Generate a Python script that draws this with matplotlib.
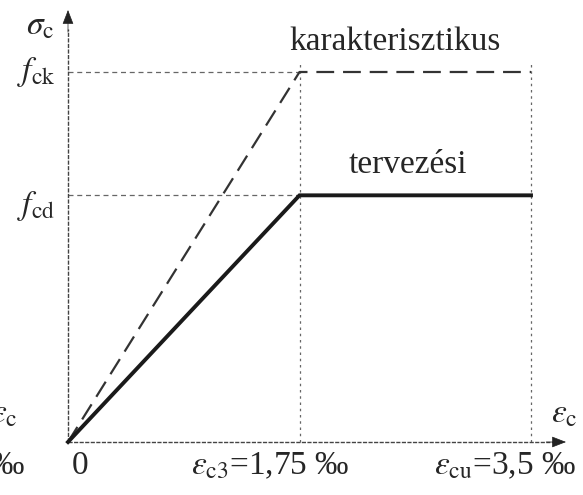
import matplotlib
matplotlib.use("Agg")
import matplotlib.pyplot as plt

plt.rcParams['font.family'] = ['Liberation Serif', 'DejaVu Serif']
plt.rcParams['mathtext.fontset'] = 'stix'

# ---- data (strain in per mille, stress relative to f_ck) ----
strain_points = [0.0, 1.75, 3.5]
char_stress = [0.0, 1.0, 1.0]          # karakterisztikus
design_stress = [0.0, 1.0 / 1.5, 1.0 / 1.5]  # tervezési
char_label = "karakterisztikus"
design_label = "tervezési"
y_tick_labels = [r"$f_{\rm ck}$", r"$f_{\rm cd}$"]
x_tick_labels = ["0", r"$\varepsilon_{\rm c3}$=1,75 ‰", r"$\varepsilon_{\rm cu}$=3,5 ‰"]

W, H = 583, 495
fig = plt.figure(figsize=(W / 100, H / 100), dpi=100)
ax = fig.add_axes([0, 0, 1, 1])
ax.set_axis_off()

# map: origin at pixel (68, 442); 3.5 -> px 531 ; 1.0 -> px 72
sx = (531 - 68) / 3.5
sy = (442 - 72) / 1.0
ax.set_xlim(-68 / sx, (W - 68) / sx)
ax.set_ylim(-(H - 442) / sy, 442 / sy)

tc = '#262626'
guide = '#666666'

# guide lines
for yv in [char_stress[1], design_stress[1]]:
    ax.plot([0, strain_points[1]], [yv, yv], color=guide, lw=0.9, ls=(0, (4, 3)), zorder=1)
for xv in strain_points[1:]:
    ax.plot([xv, xv], [0, 1.03], color=guide, lw=0.9, ls=(0, (2, 3)), zorder=1)

# axes
x_end = (566 - 68) / sx
y_end = (442 - 10) / sy
ax.plot([0, x_end - 0.1], [0, 0], color='#444444', lw=1.0, ls=(0, (3, 1)), zorder=2)
ax.plot([0, 0], [0, y_end - 0.05], color='#444444', lw=1.0, ls=(0, (3, 1)), zorder=2)
ax.annotate('', xy=(x_end, 0), xytext=(x_end - 0.15, 0),
            arrowprops=dict(arrowstyle='-|>,head_length=0.9,head_width=0.35',
                            color='#222222', lw=0.5, shrinkA=0, shrinkB=0))
ax.annotate('', xy=(0, y_end), xytext=(0, y_end - 0.06),
            arrowprops=dict(arrowstyle='-|>,head_length=0.9,head_width=0.35',
                            color='#222222', lw=0.5, shrinkA=0, shrinkB=0))

# curves
ax.plot(strain_points, char_stress, color='#333333', lw=1.6, ls=(0, (8, 4)), zorder=3)
ax.plot(strain_points, design_stress, color='#1a1a1a', lw=2.8, zorder=4,
        solid_joinstyle='miter')

# labels
fs = 24
ax.text((395 - 68) / sx, (442 - 42) / sy, char_label, ha='center', va='center',
        fontsize=fs, color=tc)
ax.text((408 - 68) / sx, (442 - 165) / sy, design_label, ha='center', va='center',
        fontsize=fs, color=tc)

ax.text(-0.095, char_stress[1], y_tick_labels[0], ha='right', va='center', fontsize=fs, color=tc)
ax.text(-0.095, design_stress[1] - 0.03, y_tick_labels[1], ha='right', va='center', fontsize=fs, color=tc)
ax.text(-0.1, 1.125, r"$\sigma_{\rm c}$", ha='right', va='center', fontsize=fs, color=tc)

ylab = -(466 - 442) / sy
ax.text(0.09, ylab, x_tick_labels[0], ha='center', va='center', fontsize=fs, color=tc)
ax.text(1.53, ylab, x_tick_labels[1], ha='center', va='center', fontsize=fs, color=tc)
ax.text(3.3, ylab, x_tick_labels[2], ha='center', va='center', fontsize=fs, color=tc)
ax.text((551 - 68) / sx, 0.075, r"$\varepsilon_{\rm c}$", ha='left', va='center',
        fontsize=fs, color=tc)

# partial glyphs of neighbouring figure at the left edge
ax.text(18 / sx - 68 / sx, 0.075, r"$\varepsilon_{\rm c}$", ha='right', va='center', fontsize=fs, color=tc)
ax.text(24 / sx - 68 / sx, ylab, "‰", ha='right', va='center', fontsize=fs, color=tc)

fig.savefig("out.png", dpi=100)
